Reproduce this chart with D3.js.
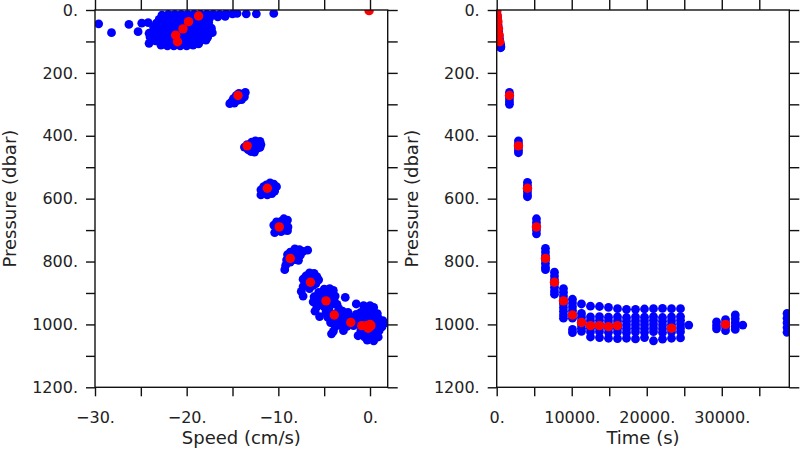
<!DOCTYPE html>
<html><head><meta charset="utf-8">
<script src="https://cdn.jsdelivr.net/npm/d3@7"></script>
<style>body{margin:0;background:#fff}svg{display:block}</style>
</head><body><svg id="c" width="800" height="450"></svg>
<script>
// ---------- DATA ----------
// Left panel: blue samples [speed (cm/s), pressure (dbar)]
const speedBlue = [
  // near-surface cloud
  [-22.7,16],[-22.0,14],[-21.3,14],[-20.6,14],[-19.9,14],[-19.2,13],[-18.5,13],[-17.8,13],[-17.1,13],[-16.4,14],[-15.7,12],[-15.0,12],[-14.5,11],[-13.5,12],[-12.4,12],[-10.5,11],
  [-23.0,30],[-22.3,28],[-21.6,28],[-20.9,28],[-20.2,28],[-19.5,28],[-18.8,28],[-18.1,27],[-17.5,26],[-16.6,22],[-15.8,20],
  [-24.9,42],[-24.2,40],[-23.3,42],[-22.6,42],[-21.9,42],[-21.2,42],[-20.5,42],[-19.8,42],[-19.1,42],[-18.4,42],[-17.6,40],
  [-23.6,56],[-22.9,56],[-22.2,56],[-21.5,56],[-20.8,56],[-20.1,56],[-19.4,56],[-18.7,56],[-18.0,56],[-17.3,58],
  [-25.3,69],[-24.1,74],[-23.4,70],[-22.7,70],[-22.0,70],[-21.3,70],[-20.6,70],[-19.9,70],[-19.2,70],[-18.5,70],[-17.8,70],[-17.2,72],
  [-24.0,86],[-23.3,84],[-22.6,84],[-21.9,84],[-21.2,84],[-20.5,84],[-19.8,84],[-19.1,84],[-18.4,84],[-17.7,86],
  [-24.1,106],[-23.4,98],[-22.7,98],[-22.0,98],[-21.3,98],[-20.6,98],[-19.9,98],[-19.2,98],[-18.5,98],[-17.9,96],
  [-22.8,112],[-22.1,114],[-21.4,114],[-20.7,114],[-20.0,114],[-19.3,112],[-18.7,108],
  [-29.6,44],[-28.2,72],[-26.3,46],
  // ~270 dbar
  [-13.6,262],[-13.9,268],[-14.3,265],[-13.7,276],[-14.1,278],[-14.6,272],[-14.9,282],[-14.4,287],[-15.1,292],[-14.8,296],[-15.3,298],[-14.0,285],
  // ~430 dbar
  [-12.0,418],[-12.5,416],[-12.9,420],[-11.9,428],[-12.4,430],[-12.9,432],[-13.4,428],[-13.7,436],[-13.3,444],[-12.8,444],[-12.3,440],[-12.0,437],[-13.0,450],[-12.6,452],
  // ~565 dbar
  [-10.9,550],[-10.5,554],[-11.3,556],[-10.2,562],[-10.6,566],[-11.6,562],[-11.9,572],[-10.4,576],[-10.9,578],[-11.5,580],[-11.9,588],[-11.2,588],[-10.7,584],
  // ~690 dbar
  [-9.4,664],[-9.0,668],[-9.7,672],[-10.2,674],[-10.5,684],[-9.2,680],[-8.95,690],[-9.5,690],[-10.0,696],[-9.3,700],[-9.7,705],[-10.4,708],[-9.0,702],
  // ~790 dbar
  [-8.2,760],[-7.7,762],[-6.8,764],[-7.3,768],[-8.7,770],[-9.0,778],[-8.0,776],[-7.6,780],[-8.6,788],[-9.1,795],[-8.2,794],[-7.8,796],[-8.7,802],[-9.2,812],[-9.3,826],
  // ~866 dbar
  [-6.6,836],[-6.1,838],[-7.0,846],[-5.8,848],[-5.6,858],[-6.2,852],[-7.3,856],[-7.1,866],[-5.9,870],[-6.2,876],[-6.8,878],[-7.3,880],[-7.5,895],[-7.3,910],[-6.6,886],
  // ~925 dbar
  [-5.0,888],[-4.4,886],[-4.0,892],[-5.6,898],[-4.8,900],[-4.2,904],[-3.8,910],[-6.1,912],[-5.5,914],[-5.1,920],[-4.4,920],[-3.9,926],[-6.2,928],[-5.6,932],[-4.2,936],[-3.6,936],[-5.8,944],[-5.0,944],[-4.5,950],[-6.0,958],[-3.4,950],
  [-2.7,914],[-1.5,935],
  // bottom cloud
  [-5.5,975],[-4.8,962],[-4.2,966],[-3.5,962],[-3.0,958],[-2.4,962],[-4.6,978],[-3.9,984],[-3.2,976],[-2.6,974],[-2.0,978],[-1.5,968],[-4.3,994],[-3.6,996],[-2.9,990],[-2.3,992],[-1.6,986],[-1.1,980],[-3.8,1008],[-3.1,1004],[-2.5,1006],[-1.8,1004],[-4.0,1022],[-2.9,1020],[-4.2,1030],
  [-0.7,940],[0.0,940],[0.4,946],[-0.4,956],[0.3,960],[-1.0,962],[0.8,966],[-0.6,972],[0.1,976],[0.9,980],[1.4,988],[-0.9,988],[-0.2,990],[0.6,992],[1.6,996],[-1.2,998],[0.9,1004],[1.3,1008],[-0.5,1014],[0.4,1014],[1.0,1020],[-1.0,1020],[-0.3,1026],[0.5,1028],[-1.3,1036],[-0.6,1040],[0.1,1042],[0.9,1040],[-0.3,1050],[0.4,1052]
];

// Right panel: blue samples near the surface [time (s), pressure (dbar)]
const timeBlueSurface = [
  [0,0],[20,6],[50,14],[80,22],[110,30],[140,38],[170,46],[200,54],[240,62],[270,70],[300,78],[340,86],[380,94],[420,100],[460,106],[500,110],[540,114],[560,118],[520,120]
];
// Right panel: blue sample columns (time) and their pressures
const colTimes = [1700,2900,4100,5300,6500,7700,8900,10100,11300,12500,13700,14900,16100,17300,18500,19700,20900,22100,23300,24500,25600,29300,30500,31800,32800,38700];
const colPressures = [
  [262,272,282,292,300],
  [416,426,436,446,454],
  [548,558,568,578,588,594],
  [664,676,688,700,712],
  [758,770,782,794,806,818,826],
  [834,846,858,870,882,894,904],
  [886,898,910,922,934,946,958,970,980],
  [920,932,944,956,968,980,1016,1026],
  [935,965,977,989,1001,1012,1022],
  [942,976,988,1000,1012,1024,1040],
  [943,975,987,999,1011,1023,1042],
  [946,977,989,1001,1013,1025,1044],
  [950,976,988,1000,1012,1024,1045],
  [952,978,990,1002,1014,1026,1044],
  [952,976,988,1000,1012,1024,1046],
  [951,977,989,1001,1013,1025,1042],
  [950,975,987,999,1011,1023,1052],
  [949,978,990,1002,1014,1026,1047],
  [950,976,988,1000,1012,1024,1044],
  [950,975,987,999,1011,1023,1043],
  [1002],
  [992,1004,1014],
  [985,996,1008,1020],
  [970,982,994,1006,1016],
  [1002],
  [965,980,995,1010,1025]
];

// Red means: speed, pressure, time
const redSpeed    = [-0.1,-18.7,-19.8,-20.4,-21.2,-21.0,-14.4,-13.4,-11.2,-9.9,-8.7,-6.5,-4.8,-3.9,-2.1,-0.9,-0.4,0.0,0.1,-0.2,0.0];
const redPressure = [2,19,37,60,80,101,272,432,567,690,790,866,925,970,994,1004,1004,1007,1004,1012,1000];
const redTime     = [0,80,160,240,320,400,1700,2900,4100,5300,6500,7700,8900,10100,11300,12500,13700,14900,16100,23300,30500];

// Axis ticks
const pTicks = [0,100,200,300,400,500,600,700,800,900,1000,1100,1200];
const pLabels = [0,200,400,600,800,1000,1200];
const speedTicks = [-30,-25,-20,-15,-10,-5,0];
const speedLabels = [-30,-20,-10,0];
const timeTicks = [0,5000,10000,15000,20000,25000,30000,35000];
const timeLabels = [0,10000,20000,30000];

// ---------- DRAW ----------
const svg = d3.select("#c");
const FONT = "'DejaVu Sans', sans-serif";
const y = d3.scaleLinear([0,1200],[10,387.3]);
const xL = d3.scaleLinear([-30,1.93],[95,387.7]);
const xR = d3.scaleLinear([0,39000],[496.7,789.3]);

const fmt = (labels) => d => labels.includes(d) ? (d < 0 ? "\u2212" + Math.abs(d) : d) + "." : "";

function panel(id, x, xTicks, xLabels, xTitle, blue, red) {
  const [x0,x1] = x.range(), [y0,y1] = y.range();
  const g = svg.append("g");
  const defs = svg.append("defs");
  defs.append("clipPath").attr("id", id).append("rect")
    .attr("x", x0).attr("y", y0).attr("width", x1-x0).attr("height", y1-y0);
  const pts = g.append("g").attr("clip-path", `url(#${id})`);
  pts.selectAll("circle.b").data(blue).join("circle").attr("class","b")
    .attr("cx", d => x(d[0])).attr("cy", d => y(d[1])).attr("r", 4.4).attr("fill", "#0000ff");
  pts.selectAll("circle.r").data(red).join("circle").attr("class","r")
    .attr("cx", d => x(d[0])).attr("cy", d => y(d[1])).attr("r", 4.7).attr("fill", "#ff0000");

  const style = sel => {
    sel.select(".domain").remove();
    sel.selectAll("line").attr("stroke", "#111").attr("stroke-width", 1.4);
    sel.selectAll("text").attr("font-family", FONT).attr("font-size", 16).attr("fill", "#222");
  };
  g.append("g").attr("transform", `translate(0,${y1})`)
    .call(d3.axisBottom(x).tickValues(xTicks).tickSize(9).tickFormat(fmt(xLabels)))
    .call(style).call(s => s.selectAll("text").attr("y", 36).attr("dy", null));
  g.append("g").attr("transform", `translate(0,${y0})`)
    .call(d3.axisTop(x).tickValues(xTicks).tickSize(10).tickFormat(""))
    .call(style);
  g.append("g").attr("transform", `translate(${x0},0)`)
    .call(d3.axisLeft(y).tickValues(pTicks).tickSize(9).tickPadding(8).tickFormat(fmt(pLabels)))
    .call(style);
  g.append("g").attr("transform", `translate(${x1},0)`)
    .call(d3.axisRight(y).tickValues(pTicks).tickSize(10).tickFormat(""))
    .call(style);
  g.append("rect").attr("x", x0).attr("y", y0).attr("width", x1-x0).attr("height", y1-y0)
    .attr("fill", "none").attr("stroke", "#111").attr("stroke-width", 1.4);

  g.append("text").attr("x", (x0+x1)/2).attr("y", 444).attr("text-anchor", "middle")
    .attr("font-family", FONT).attr("font-size", 18).attr("fill", "#222").text(xTitle);
  g.append("text").attr("transform", `translate(${x0-79},${(y0+y1)/2}) rotate(-90)`)
    .attr("text-anchor", "middle").attr("font-family", FONT).attr("font-size", 18)
    .attr("fill", "#222").text("Pressure (dbar)");
}

const rightBlue = timeBlueSurface.concat(
  colTimes.flatMap((t, i) => colPressures[i].map(p => [t, p]))
);
panel("clipL", xL, speedTicks, speedLabels, "Speed (cm/s)", speedBlue,
  redSpeed.map((s, i) => [s, redPressure[i]]));
panel("clipR", xR, timeTicks, timeLabels, "Time (s)", rightBlue,
  redTime.map((t, i) => [t, redPressure[i]]));
</script>
</body></html>
